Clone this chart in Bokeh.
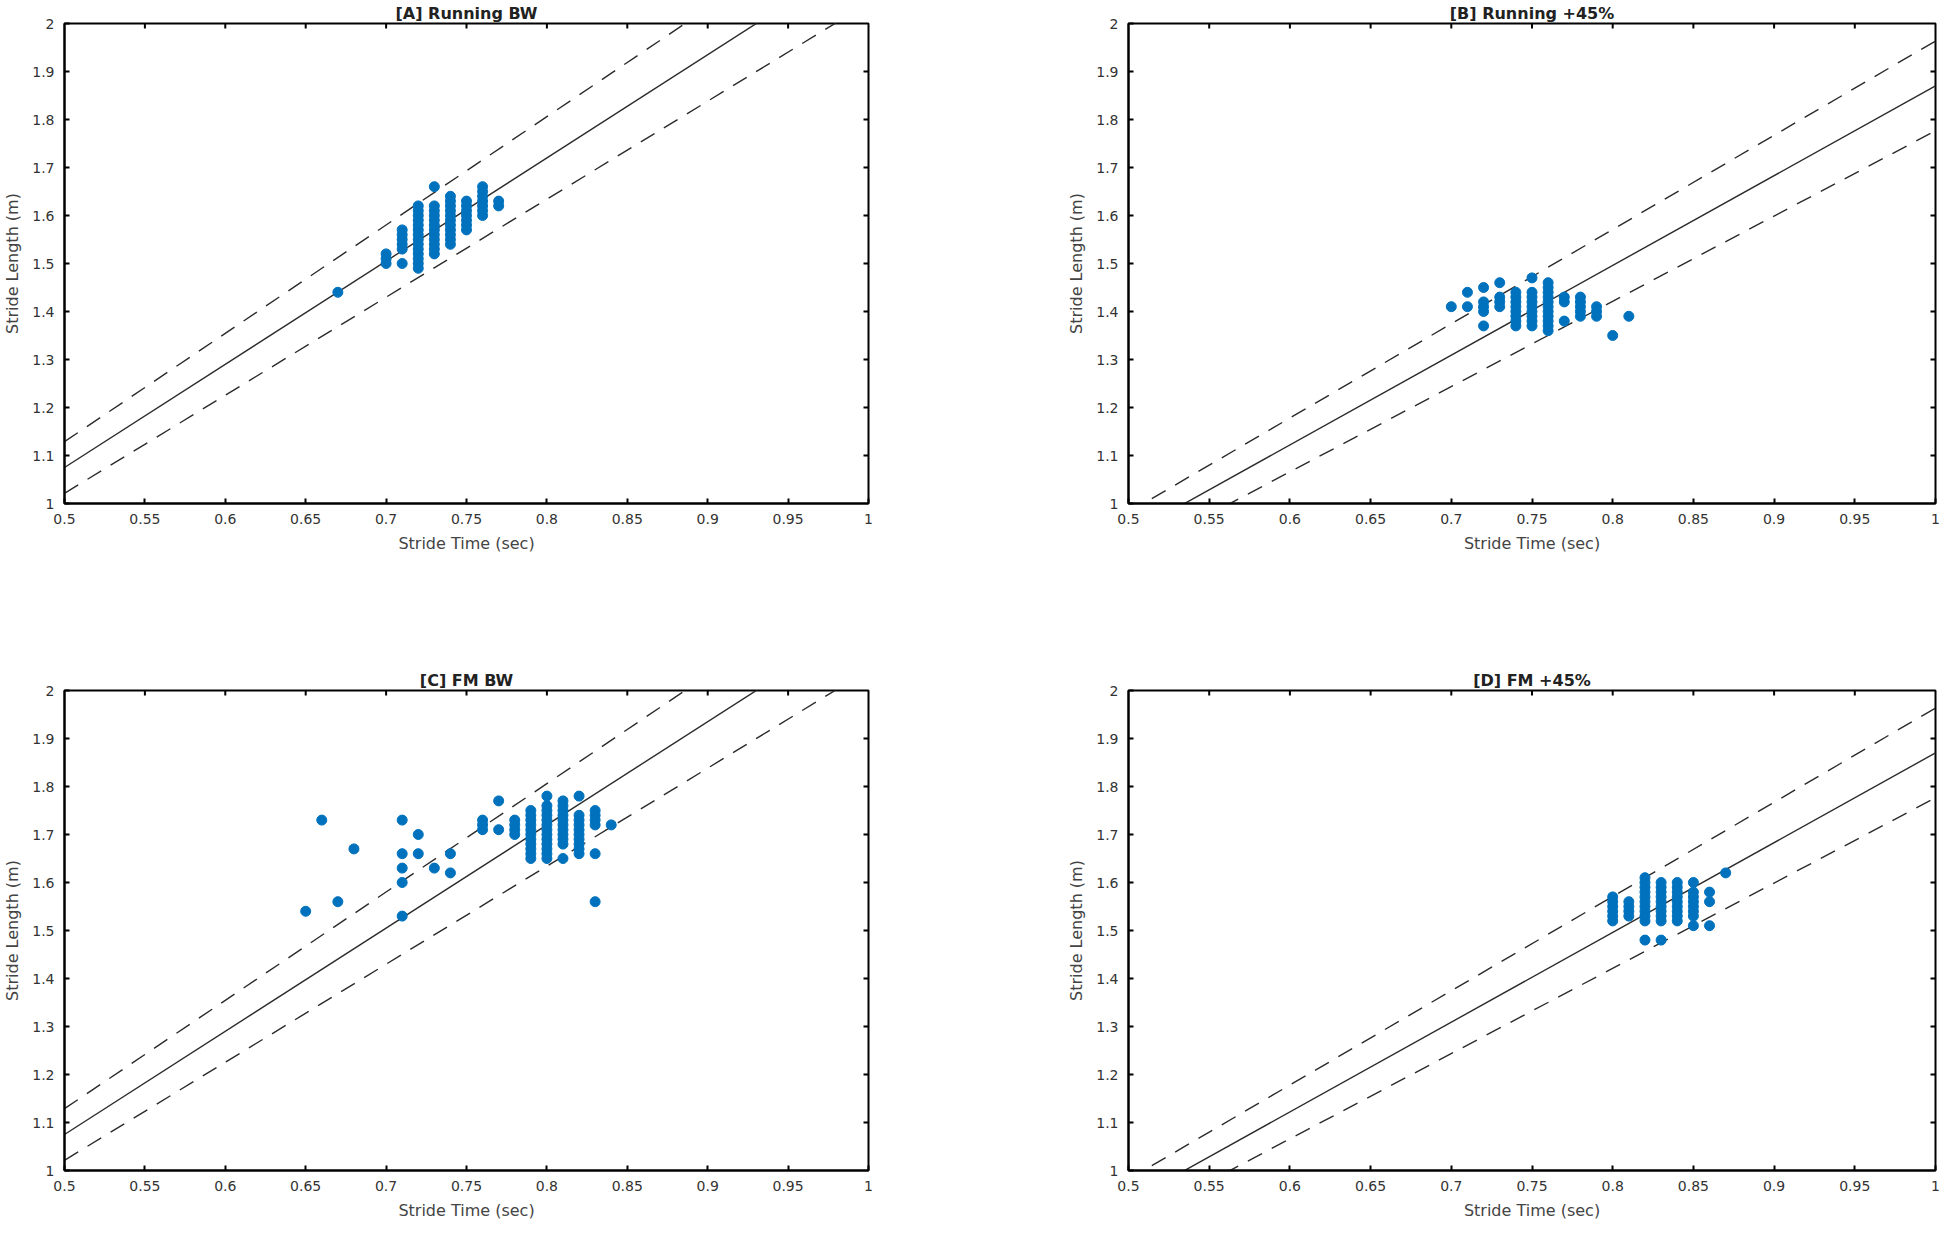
import math
from bokeh.plotting import figure
from bokeh.layouts import column, row
from bokeh.models import FixedTicker
from bokeh.embed import file_html
from bokeh.resources import INLINE

# ---------------- data ----------------
titles = ["[A] Running BW", "[B] Running +45%", "[C] FM BW", "[D] FM +45%"]
x_label = "Stride Time (sec)"
y_label = "Stride Length (m)"

x_limits = (0.5, 1.0)
y_limits = (1.0, 2.0)
x_ticks = [0.5, 0.55, 0.6, 0.65, 0.7, 0.75, 0.8, 0.85, 0.9, 0.95, 1.0]
x_tick_labels = ["0.5", "0.55", "0.6", "0.65", "0.7", "0.75", "0.8", "0.85", "0.9", "0.95", "1"]
y_ticks = [1.0, 1.1, 1.2, 1.3, 1.4, 1.5, 1.6, 1.7, 1.8, 1.9, 2.0]
y_tick_labels = ["1", "1.1", "1.2", "1.3", "1.4", "1.5", "1.6", "1.7", "1.8", "1.9", "2"]

# speed lines (stride length = speed * stride time), with +/-5% bands
speeds = [2.15, 1.87, 2.15, 1.87]
band = [0.95, 1.05]
line_x = [0.5, 1.0]

A_time = [0.67,
          0.70, 0.70, 0.70,
          0.71, 0.71, 0.71, 0.71, 0.71, 0.71,
          0.72, 0.72, 0.72, 0.72, 0.72, 0.72, 0.72, 0.72, 0.72, 0.72, 0.72, 0.72, 0.72, 0.72,
          0.73, 0.73, 0.73, 0.73, 0.73, 0.73, 0.73, 0.73, 0.73, 0.73, 0.73, 0.73,
          0.74, 0.74, 0.74, 0.74, 0.74, 0.74, 0.74, 0.74, 0.74, 0.74, 0.74,
          0.75, 0.75, 0.75, 0.75, 0.75, 0.75, 0.75,
          0.76, 0.76, 0.76, 0.76, 0.76, 0.76, 0.76,
          0.77, 0.77]
A_length = [1.44,
            1.50, 1.51, 1.52,
            1.50, 1.53, 1.54, 1.55, 1.56, 1.57,
            1.49, 1.50, 1.51, 1.52, 1.53, 1.54, 1.55, 1.56, 1.57, 1.58, 1.59, 1.60, 1.61, 1.62,
            1.52, 1.53, 1.54, 1.55, 1.56, 1.57, 1.58, 1.59, 1.60, 1.61, 1.62, 1.66,
            1.54, 1.55, 1.56, 1.57, 1.58, 1.59, 1.60, 1.61, 1.62, 1.63, 1.64,
            1.57, 1.58, 1.59, 1.60, 1.61, 1.62, 1.63,
            1.60, 1.61, 1.62, 1.63, 1.64, 1.65, 1.66,
            1.62, 1.63]

B_time = [0.70,
          0.71, 0.71,
          0.72, 0.72, 0.72, 0.72, 0.72,
          0.73, 0.73, 0.73, 0.73,
          0.74, 0.74, 0.74, 0.74, 0.74, 0.74, 0.74, 0.74,
          0.75, 0.75, 0.75, 0.75, 0.75, 0.75, 0.75, 0.75, 0.75,
          0.76, 0.76, 0.76, 0.76, 0.76, 0.76, 0.76, 0.76, 0.76, 0.76, 0.76,
          0.77, 0.77, 0.77,
          0.78, 0.78, 0.78, 0.78, 0.78,
          0.79, 0.79, 0.79,
          0.80,
          0.81]
B_length = [1.41,
            1.41, 1.44,
            1.37, 1.40, 1.41, 1.42, 1.45,
            1.41, 1.42, 1.43, 1.46,
            1.37, 1.38, 1.39, 1.40, 1.41, 1.42, 1.43, 1.44,
            1.37, 1.38, 1.39, 1.40, 1.41, 1.42, 1.43, 1.44, 1.47,
            1.36, 1.37, 1.38, 1.39, 1.40, 1.41, 1.42, 1.43, 1.44, 1.45, 1.46,
            1.38, 1.42, 1.43,
            1.39, 1.40, 1.41, 1.42, 1.43,
            1.39, 1.40, 1.41,
            1.35,
            1.39]

C_time = [0.65, 0.66, 0.67, 0.68,
          0.71, 0.71, 0.71, 0.71, 0.71,
          0.72, 0.72,
          0.73,
          0.74, 0.74,
          0.76, 0.76, 0.76,
          0.77, 0.77,
          0.78, 0.78, 0.78, 0.78,
          0.79, 0.79, 0.79, 0.79, 0.79, 0.79, 0.79, 0.79, 0.79, 0.79, 0.79,
          0.80, 0.80, 0.80, 0.80, 0.80, 0.80, 0.80, 0.80, 0.80, 0.80, 0.80, 0.80, 0.80,
          0.81, 0.81, 0.81, 0.81, 0.81, 0.81, 0.81, 0.81, 0.81, 0.81, 0.81,
          0.82, 0.82, 0.82, 0.82, 0.82, 0.82, 0.82, 0.82, 0.82, 0.82,
          0.83, 0.83, 0.83, 0.83, 0.83, 0.83,
          0.84]
C_length = [1.54, 1.73, 1.56, 1.67,
            1.53, 1.60, 1.63, 1.66, 1.73,
            1.66, 1.70,
            1.63,
            1.62, 1.66,
            1.71, 1.72, 1.73,
            1.71, 1.77,
            1.70, 1.71, 1.72, 1.73,
            1.65, 1.66, 1.67, 1.68, 1.69, 1.70, 1.71, 1.72, 1.73, 1.74, 1.75,
            1.65, 1.66, 1.67, 1.68, 1.69, 1.70, 1.71, 1.72, 1.73, 1.74, 1.75, 1.76, 1.78,
            1.65, 1.68, 1.69, 1.70, 1.71, 1.72, 1.73, 1.74, 1.75, 1.76, 1.77,
            1.66, 1.67, 1.68, 1.69, 1.70, 1.71, 1.72, 1.73, 1.74, 1.78,
            1.56, 1.66, 1.72, 1.73, 1.74, 1.75,
            1.72]

D_time = [0.80, 0.80, 0.80, 0.80, 0.80, 0.80,
          0.81, 0.81, 0.81, 0.81,
          0.82, 0.82, 0.82, 0.82, 0.82, 0.82, 0.82, 0.82, 0.82, 0.82, 0.82,
          0.83, 0.83, 0.83, 0.83, 0.83, 0.83, 0.83, 0.83, 0.83, 0.83,
          0.84, 0.84, 0.84, 0.84, 0.84, 0.84, 0.84, 0.84, 0.84,
          0.85, 0.85, 0.85, 0.85, 0.85, 0.85, 0.85, 0.85,
          0.86, 0.86, 0.86,
          0.87]
D_length = [1.52, 1.53, 1.54, 1.55, 1.56, 1.57,
            1.53, 1.54, 1.55, 1.56,
            1.48, 1.52, 1.53, 1.54, 1.55, 1.56, 1.57, 1.58, 1.59, 1.60, 1.61,
            1.48, 1.52, 1.53, 1.54, 1.55, 1.56, 1.57, 1.58, 1.59, 1.60,
            1.52, 1.53, 1.54, 1.55, 1.56, 1.57, 1.58, 1.59, 1.60,
            1.51, 1.53, 1.54, 1.55, 1.56, 1.57, 1.58, 1.60,
            1.51, 1.56, 1.58,
            1.62]

panel_times = [A_time, B_time, C_time, D_time]
panel_lengths = [A_length, B_length, C_length, D_length]

# ---------------- styling ----------------
FONT = "DejaVu Sans"
DOT = "#0072BD"
LINE = "#2b2b2b"
x_over = {t: l for t, l in zip(x_ticks, x_tick_labels)}
y_over = {t: l for t, l in zip(y_ticks, y_tick_labels)}


def style_axis(ax, ticks, over):
    ax.ticker = FixedTicker(ticks=ticks)
    ax.major_label_overrides = over
    ax.major_tick_in = 5
    ax.major_tick_out = 0
    ax.minor_tick_line_color = None
    ax.axis_line_color = "black"
    ax.axis_line_width = 2
    ax.major_tick_line_color = "black"
    ax.major_tick_line_width = 2
    ax.major_label_text_font = FONT
    ax.major_label_text_font_size = "14px"
    ax.major_label_text_color = "#333333"
    ax.major_label_standoff = 10
    ax.axis_label_text_font = FONT
    ax.axis_label_text_font_size = "16px"
    ax.axis_label_text_font_style = "normal"
    ax.axis_label_text_color = "#444444"
    ax.axis_label_standoff = 7


def make_panel(i, frame_w, mb_right, mb_bottom):
    p = figure(frame_width=frame_w, frame_height=480,
               x_range=x_limits, y_range=y_limits,
               output_backend="svg", toolbar_location=None,
               min_border_left=60, min_border_right=mb_right,
               min_border_top=23, min_border_bottom=mb_bottom,
               background_fill_color="white", border_fill_color="white")
    p.title.text = titles[i]
    p.title.text_font = FONT
    p.title.text_font_size = "16px"
    p.title.text_font_style = "bold"
    p.title.text_color = "#222222"
    p.title.align = "center"
    p.title.standoff = 2
    p.grid.visible = False
    p.outline_line_color = "black"
    p.outline_line_width = 2

    style_axis(p.xaxis[0], x_ticks, x_over)
    style_axis(p.yaxis[0], y_ticks, y_over)
    p.xaxis.axis_label = x_label
    p.yaxis.axis_label = y_label

    # box ticks on the top and right edges (inward, like the bottom/left ones)
    p.ray(x=x_ticks[1:-1], y=[y_limits[1]] * (len(x_ticks) - 2), length=5,
          length_units="screen", angle=-math.pi / 2,
          line_color="black", line_width=2)
    p.ray(x=[x_limits[1]] * (len(y_ticks) - 2), y=y_ticks[1:-1], length=5,
          length_units="screen", angle=math.pi,
          line_color="black", line_width=2)

    v = speeds[i]
    p.line(line_x, [v * x for x in line_x], line_color=LINE, line_width=1.4)
    for f in band:
        p.line(line_x, [v * f * x for x in line_x], line_color=LINE,
               line_width=1.4, line_dash="16 11")

    p.scatter(panel_times[i], panel_lengths[i], size=10,
              fill_color=DOT, line_color=DOT, line_width=1)
    return p


pA = make_panel(0, 804, 196, 164)
pB = make_panel(1, 807, 5, 164)
pC = make_panel(2, 804, 196, 55)
pD = make_panel(3, 807, 5, 55)

layout = column(row(pA, pB), row(pC, pD))

open("out.html", "w").write(file_html(layout, INLINE))
